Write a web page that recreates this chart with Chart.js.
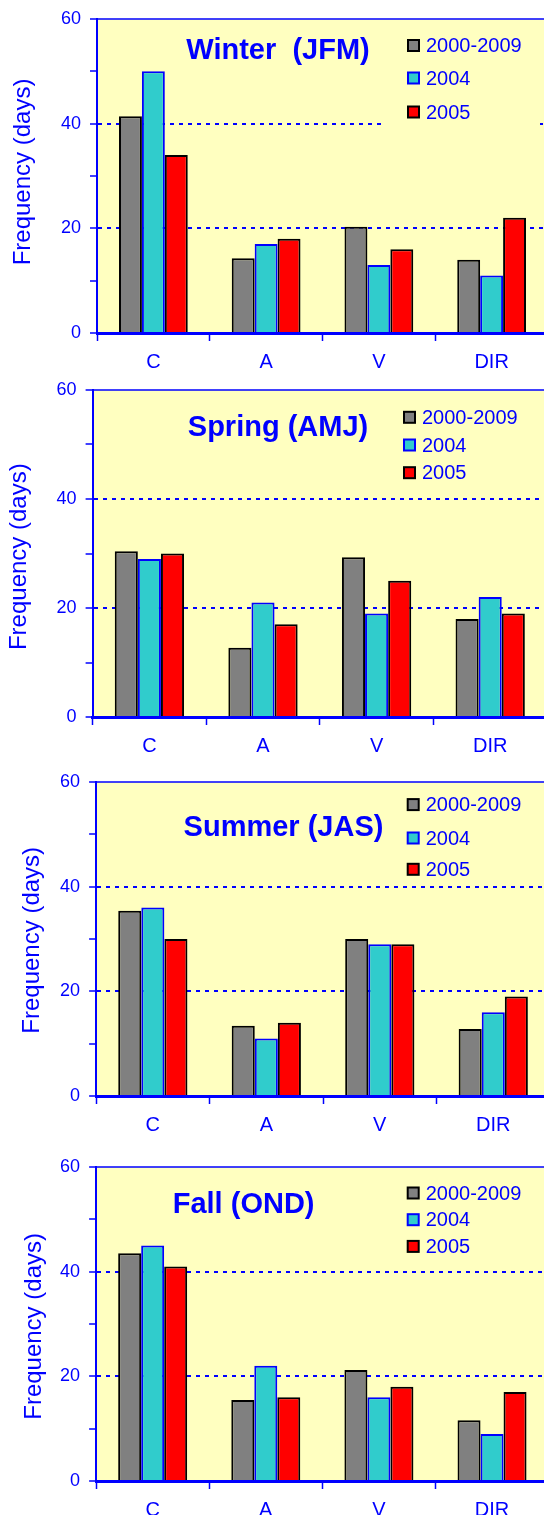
<!DOCTYPE html>
<html><head><meta charset="utf-8">
<script src="https://cdn.jsdelivr.net/npm/chart.js@4/dist/chart.umd.min.js"></script>
<style>
html,body{margin:0;padding:0;background:#fff;}
body{width:544px;height:1515px;overflow:hidden;position:relative;}
canvas{position:absolute;left:0;}
</style></head><body>
<canvas id="c0"></canvas><canvas id="c1"></canvas><canvas id="c2"></canvas><canvas id="c3"></canvas>
<script>
// ---- data ----
const categories = ['C', 'A', 'V', 'DIR'];
const seriesNames = ['2000-2009', '2004', '2005'];
const yTickLabels = [0, 20, 40, 60];
const titles = ['Winter  (JFM)', 'Spring (AMJ)', 'Summer (JAS)', 'Fall (OND)'];
const yAxisTitle = 'Frequency (days)';

const winter_clim = [41.4, 14.3, 20.3, 14];
const winter_2004 = [50, 17, 13, 11];
const winter_2005 = [34, 18, 16, 22];

const spring_clim = [30.4, 12.7, 29.3, 18];
const spring_2004 = [29, 21, 19, 22];
const spring_2005 = [30, 17, 25, 19];

const summer_clim = [35.4, 13.4, 30, 12.8];
const summer_2004 = [36, 11, 29, 16];
const summer_2005 = [30, 14, 29, 19];

const fall_clim = [43.5, 15.5, 21.2, 11.6];
const fall_2004 = [45, 22, 16, 9];
const fall_2005 = [41, 16, 18, 17];

// ---- style / layout ----
const BLUE = '#0000ff';
const YELLOW = '#ffffc0';
const FAMILY = '"Liberation Sans", Arial, Helvetica, sans-serif';
const fills = ['#808080', '#30cccc', '#ff0000'];
const edges = ['#000000', '#0000ff', '#000000'];
const W = 560, PADT = 30, XH = 50;

const panels = [
  {id:'c0', title:titles[0], data:[winter_clim, winter_2004, winter_2005], left:97, top:19, zero:333, right:548,
   ylab:[23,172], tpos:[278,51], legX:408, legY:[45.5,78,112], cover:true},
  {id:'c1', title:titles[1], data:[spring_clim, spring_2004, spring_2005], left:92.6, top:390, zero:717.3, right:547,
   ylab:[19,556.7], tpos:[278,427.7], legX:404, legY:[417.3,445,472.7], cover:false},
  {id:'c2', title:titles[2], data:[summer_clim, summer_2004, summer_2005], left:96.1, top:781.7, zero:1096, right:550,
   ylab:[32.3,940], tpos:[283.5,827.3], legX:407.7, legY:[804.3,837.7,869], cover:false},
  {id:'c3', title:titles[3], data:[fall_clim, fall_2004, fall_2005], left:96.1, top:1167.3, zero:1481.3, right:548.6,
   ylab:[34.7,1326.7], tpos:[243.6,1205], legX:407.7, legY:[1193.3,1220,1246.7], cover:false}
];

const deco = {
  id: 'deco',
  beforeDraw(chart, args, o) {
    const {ctx, chartArea: a} = chart;
    ctx.save();
    ctx.fillStyle = YELLOW;
    ctx.fillRect(a.left, a.top, a.right - a.left, a.bottom - a.top);
    ctx.restore();
  },
  afterDatasetsDraw(chart, args, o) {
    const {ctx, chartArea: a} = chart;
    const p = o.panel, off = o.off;
    ctx.save();
    // top frame
    ctx.strokeStyle = BLUE; ctx.lineWidth = 1.5;
    ctx.beginPath(); ctx.moveTo(a.left, a.top); ctx.lineTo(a.right, a.top); ctx.stroke();
    if (p.cover) {
      ctx.fillStyle = YELLOW;
      ctx.fillRect(p.legX - 26, p.legY[0] - 20 - off, 158, p.legY[2] - p.legY[0] + 40);
    }
    // title
    ctx.fillStyle = BLUE;
    ctx.font = 'bold 29px ' + FAMILY;
    ctx.textAlign = 'center'; ctx.textBaseline = 'middle';
    ctx.fillText(p.title, p.tpos[0], p.tpos[1] - off);
    // legend
    ctx.textAlign = 'left';
    ctx.font = '20px ' + FAMILY;
    chart.data.datasets.forEach((ds, i) => {
      const y = p.legY[i] - off;
      ctx.fillStyle = ds.backgroundColor;
      ctx.fillRect(p.legX, y - 5.5, 11, 11);
      ctx.strokeStyle = ds.borderColor; ctx.lineWidth = 2;
      ctx.strokeRect(p.legX, y - 5.5, 11, 11);
      ctx.fillStyle = BLUE;
      ctx.fillText(ds.label, p.legX + 18, y + 1);
    });
    // y axis title
    ctx.translate(p.ylab[0], p.ylab[1] - off);
    ctx.rotate(-Math.PI / 2);
    ctx.font = '24px ' + FAMILY;
    ctx.textAlign = 'center'; ctx.textBaseline = 'middle';
    ctx.fillText(yAxisTitle, 0, 0);
    ctx.restore();
  }
};

panels.forEach(p => {
  const cv = document.getElementById(p.id);
  const off = p.top - PADT;
  const H = Math.round(PADT + (p.zero - p.top) + XH);
  cv.width = W; cv.height = H;
  cv.style.top = off + 'px';
  cv.style.width = W + 'px'; cv.style.height = H + 'px';
  new Chart(cv, {
    type: 'bar',
    data: {
      labels: categories,
      datasets: seriesNames.map((n, i) => ({
        label: n, data: p.data[i],
        backgroundColor: fills[i], borderColor: edges[i], borderWidth: 2,
        categoryPercentage: 0.61, barPercentage: 1.0
      }))
    },
    options: {
      responsive: false, animation: false, devicePixelRatio: 1,
      layout: {padding: {top: PADT, left: 0, right: W - p.right, bottom: 0}},
      plugins: {legend: {display: false}, tooltip: {enabled: false}, deco: {panel: p, off: off}},
      scales: {
        x: {
          grid: {display: true, drawOnChartArea: false, drawTicks: true, tickLength: 8,
                 tickColor: BLUE, tickWidth: 1.5, color: BLUE, offset: true},
          border: {display: true, color: BLUE, width: 3},
          ticks: {color: BLUE, font: {family: FAMILY, size: 20}, padding: 9, maxRotation: 0},
          afterFit(s) { s.height = XH; }
        },
        y: {
          min: 0, max: 60,
          ticks: {stepSize: 10, color: BLUE, font: {family: FAMILY, size: 18}, padding: 9,
                  callback: v => yTickLabels.includes(v) ? String(v) : ''},
          grid: {color: c => (c.tick && (c.tick.value === 20 || c.tick.value === 40)) ? BLUE : 'rgba(0,0,0,0)',
                 lineWidth: 2, tickColor: BLUE, tickLength: 7, tickWidth: 1.5},
          border: {display: true, color: BLUE, width: 2, dash: [4, 5]},
          afterFit(s) { s.width = p.left; }
        }
      }
    },
    plugins: [deco]
  });
});
</script>
</body></html>
